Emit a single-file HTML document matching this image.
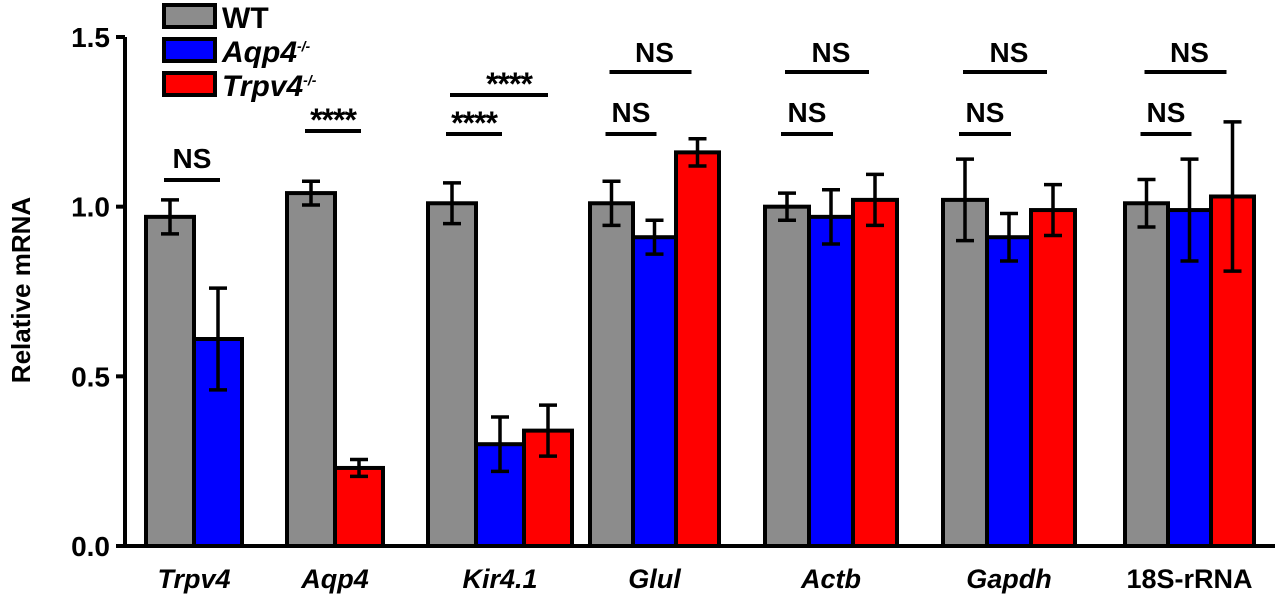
<!DOCTYPE html>
<html><head><meta charset="utf-8"><style>
body{margin:0;background:#fff;}
svg{display:block;font-family:"Liberation Sans",Arial,sans-serif;font-weight:bold;}
</style></head><body>
<svg id="chart" width="1280" height="604" viewBox="0 0 1280 604" xmlns="http://www.w3.org/2000/svg"></svg>
<script>
const categories=["Trpv4","Aqp4","Kir4.1","Glul","Actb","Gapdh","18S-rRNA"];
const italicCat=[true,true,true,true,true,true,false];
const seriesNames=["WT","Aqp4","Trpv4"];
const wtValues=[0.97,1.04,1.01,1.01,1.00,1.02,1.01];
const wtErr=[0.05,0.035,0.06,0.065,0.04,0.12,0.07];
const aqp4Values=[0.61,null,0.30,0.91,0.97,0.91,0.99];
const aqp4Err=[0.15,null,0.08,0.05,0.08,0.07,0.15];
const trpv4Values=[null,0.23,0.34,1.16,1.02,0.99,1.03];
const trpv4Err=[null,0.025,0.075,0.04,0.075,0.075,0.22];
const yTicks=[0,0.5,1.0,1.5];
const yTickLabels=["0.0","0.5","1.0","1.5"];
const sigLow=["NS","****","****","NS","NS","NS","NS"];
const sigHigh=[null,null,"****","NS","NS","NS","NS"];

// layout
const groupStart=[146,287,428,590,765,943,1125];
const barW=[48,48,48,43,44,44,43];
const colors=["#8c8c8c","#0000ff","#ff0000"];
const y0=546,yTop=37,yMax=1.5;
function y(v){return y0-(y0-yTop)*v/yMax;}
const svg=document.getElementById('chart');
const NS='http://www.w3.org/2000/svg';
function el(t,a,p){const e=document.createElementNS(NS,t);for(const k in a)e.setAttribute(k,a[k]);(p||svg).appendChild(e);return e;}
function sigText(txt,x,ly){
  const isNS=txt=='NS';
  const t=el('text',{x:x,y:isNS?ly-10:ly+2,'text-anchor':'middle','font-size':isNS?28:32,'letter-spacing':isNS?0:-1});
  t.textContent=txt;
  return t;
}

// y axis
let ax=el('line',{x1:125,y1:y(yMax),x2:125,y2:y0+2,stroke:'#000','stroke-width':4});


yTicks.forEach((t,i)=>{
  const tk=el('line',{x1:116,x2:125,y1:y(t),y2:y(t),stroke:'#000','stroke-width':4});
  
  
  const tl=el('text',{x:110,y:y(t)+10,'text-anchor':'end','font-size':28});
  tl.textContent=yTickLabels[i];
  
  
});
const yt=el('text',{x:0,y:0,'text-anchor':'middle','font-size':26,transform:'translate(30,290) rotate(-90)'});
yt.textContent='Relative mRNA';



// bars
const vals=[wtValues,aqp4Values,trpv4Values],errs=[wtErr,aqp4Err,trpv4Err];
categories.forEach((c,i)=>{
  let k=0;const w=barW[i];const xs=[];
  for(let s=0;s<3;s++){
    const v=vals[s][i];if(v==null)continue;
    const x=groupStart[i]+k*w;k++;xs.push(x+w/2);
    const r=el('rect',{x:x,y:y(v),width:w,height:y0-y(v),fill:colors[s],stroke:'#000','stroke-width':4});
    
    
    const e=errs[s][i],cx=x+w/2;
    const g=el('g',{stroke:'#000','stroke-width':3.5});
    
    
    el('line',{x1:cx,x2:cx,y1:y(v+e),y2:y(v-e)},g);
    el('line',{x1:cx-9,x2:cx+9,y1:y(v+e),y2:y(v+e)},g);
    el('line',{x1:cx-9,x2:cx+9,y1:y(v-e),y2:y(v-e)},g);
  }
  const gc=groupStart[i]+k*w/2;
  const xl=el('text',{x:gc,y:588,'text-anchor':'middle','font-size':27,'font-style':italicCat[i]?'italic':'normal'});
  xl.textContent=c;
  
  
  // significance
  const ly=sigHigh[i]?134:(i==0?180:131);
  const x1=xs[0]-6,x2=xs[1]+2;
  const sl=el('line',{x1:x1,x2:x2,y1:ly,y2:ly,stroke:'#000','stroke-width':4});
  
  
  const st=sigText(sigLow[i],(x1+x2)/2,ly-2);
  
  
  if(sigHigh[i]){
    const hy=i==2?95:72;
    const h1=xs[0]-2,h2=xs[xs.length-1]-(i==2?0:6);
    const hl=el('line',{x1:h1,x2:h2,y1:hy,y2:hy,stroke:'#000','stroke-width':4});
    
    
    const ht=sigText(sigHigh[i],(h1+h2)/2+(i==2?10:4),hy-(i==2?2:0));
    
    
  }
});
// x axis
const xa=el('line',{x1:123,x2:1275,y1:y0,y2:y0,stroke:'#000','stroke-width':4});



// legend
const legendLabels=["WT","Aqp4","Trpv4"];
legendLabels.forEach((l,i)=>{
  const yy=5+i*34;
  const r=el('rect',{x:164,y:yy,width:51,height:22,fill:colors[i],stroke:'#000','stroke-width':4});
  
  
  const t=el('text',{x:222,y:yy+23,'font-size':30,'font-style':i?'italic':'normal'});
  
  
  t.textContent=l;
  if(i){const s=el('tspan',{'font-size':14,dy:-11},t);s.textContent='-/-';}
});
</script>
</body></html>
